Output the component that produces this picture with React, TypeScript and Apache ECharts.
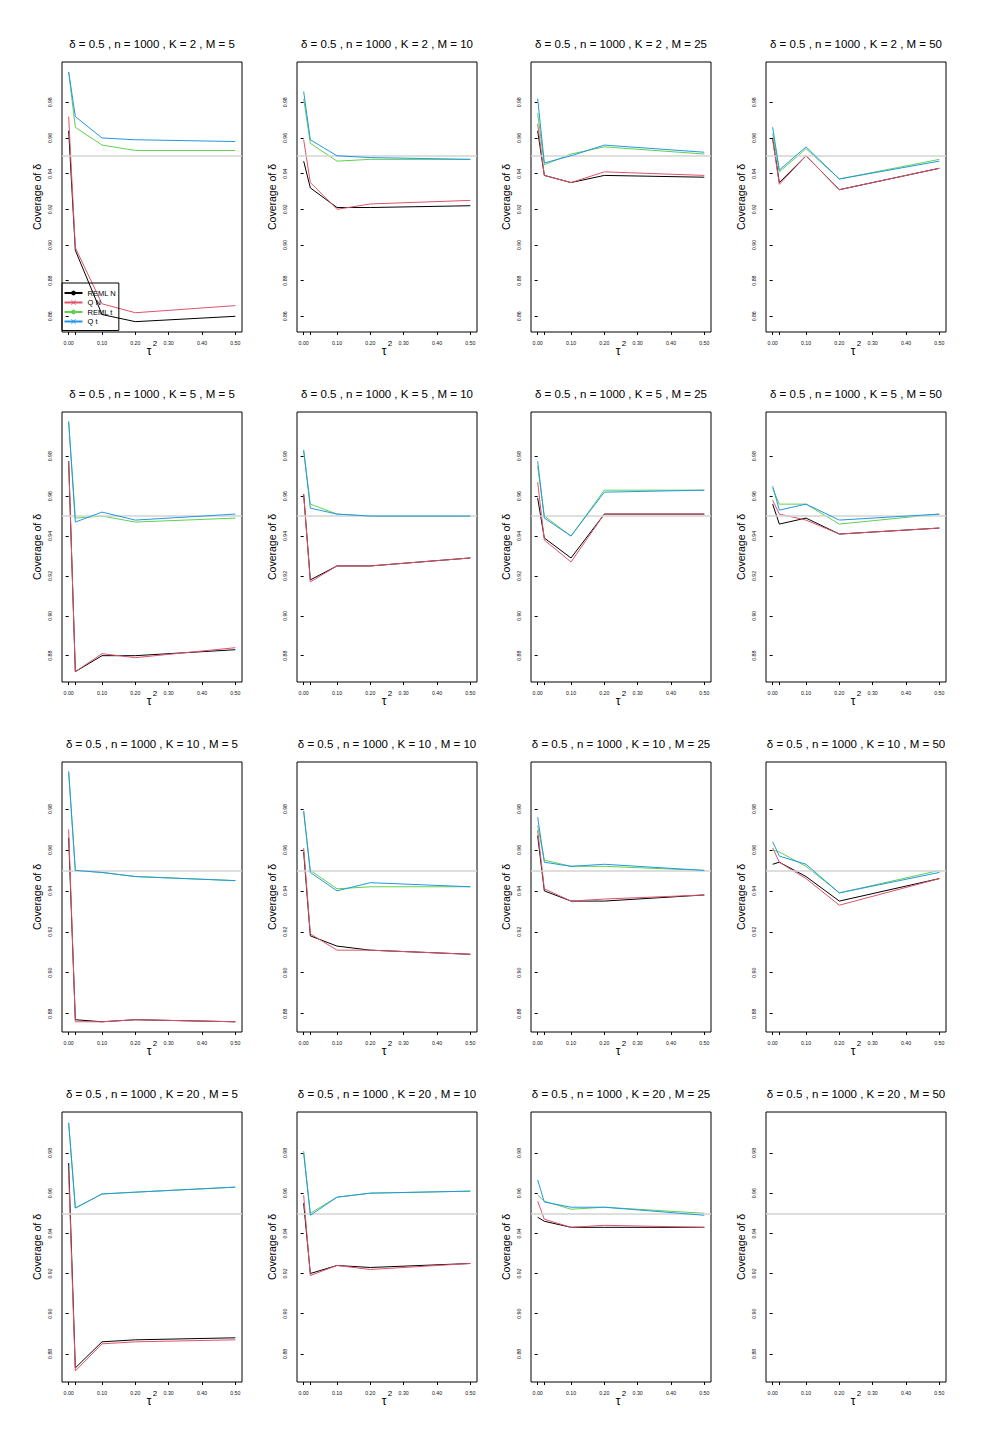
import React, { useEffect, useRef } from "react";
import * as echarts from "echarts";

// ---------- data ----------
const TAU2 = [0, 0.02, 0.1, 0.2, 0.5];
const K_VALUES = [2, 5, 10, 20];
const M_VALUES = [5, 10, 25, 50];
const SERIES_NAMES = ["REML N", "Q N", "REML t", "Q t"];
const SERIES_COLORS = ["#000000", "#DF536B", "#61D04F", "#2297E6"];
const X_LABELS = [0, 0.1, 0.2, 0.3, 0.4, 0.5];
const X_TICKS = [0, 0.02, 0.1, 0.2, 0.3, 0.4, 0.5];
const Y_TICKS_ROW1 = [0.86, 0.88, 0.9, 0.92, 0.94, 0.96, 0.98];
const Y_TICKS_OTHER = [0.88, 0.9, 0.92, 0.94, 0.96, 0.98];
const NOMINAL = 0.95;
const X_RANGE = [-0.02, 0.52];
const ROW_Y_RANGE = [
  [0.8512, 1.0026],
  [0.8668, 1.0022],
  [0.871, 1.003],
  [0.866, 1.0004],
];

// each panel: [REML N, Q N, REML t, Q t]
const K2_M5 = [
  [0.964, 0.897, 0.861, 0.857, 0.86],
  [0.972, 0.8985, 0.867, 0.862, 0.866],
  [0.997, 0.966, 0.956, 0.953, 0.953],
  [0.997, 0.972, 0.96, 0.959, 0.958],
];
const K2_M10 = [
  [0.947, 0.932, 0.921, 0.921, 0.922],
  [0.959, 0.935, 0.92, 0.923, 0.925],
  [0.982, 0.957, 0.947, 0.948, 0.948],
  [0.986, 0.959, 0.95, 0.949, 0.948],
];
const K2_M25 = [
  [0.964, 0.939, 0.935, 0.939, 0.938],
  [0.968, 0.939, 0.935, 0.941, 0.939],
  [0.974, 0.945, 0.951, 0.955, 0.951],
  [0.982, 0.946, 0.95, 0.956, 0.952],
];
const K2_M50 = [
  [0.96, 0.935, 0.95, 0.931, 0.943],
  [0.959, 0.934, 0.95, 0.931, 0.943],
  [0.9625, 0.941, 0.954, 0.937, 0.948],
  [0.966, 0.942, 0.955, 0.937, 0.947],
];
const K5_M5 = [
  [0.9775, 0.872, 0.88, 0.88, 0.883],
  [0.9775, 0.872, 0.881, 0.879, 0.884],
  [0.997, 0.949, 0.95, 0.947, 0.949],
  [0.9976, 0.947, 0.952, 0.948, 0.951],
];
const K5_M10 = [
  [0.961, 0.918, 0.925, 0.925, 0.929],
  [0.961, 0.917, 0.925, 0.925, 0.929],
  [0.983, 0.956, 0.951, 0.95, 0.95],
  [0.983, 0.954, 0.951, 0.95, 0.95],
];
const K5_M25 = [
  [0.959, 0.939, 0.929, 0.951, 0.951],
  [0.967, 0.938, 0.927, 0.951, 0.951],
  [0.975, 0.95, 0.94, 0.963, 0.963],
  [0.9775, 0.949, 0.94, 0.962, 0.963],
];
const K5_M50 = [
  [0.956, 0.946, 0.949, 0.941, 0.944],
  [0.958, 0.951, 0.948, 0.941, 0.944],
  [0.964, 0.956, 0.956, 0.946, 0.951],
  [0.965, 0.953, 0.956, 0.948, 0.951],
];
const K10_M5 = [
  [0.966, 0.877, 0.876, 0.877, 0.876],
  [0.97, 0.876, 0.876, 0.877, 0.876],
  [0.998, 0.95, 0.949, 0.947, 0.945],
  [0.9984, 0.95, 0.949, 0.947, 0.945],
];
const K10_M10 = [
  [0.959, 0.918, 0.913, 0.911, 0.909],
  [0.961, 0.919, 0.911, 0.911, 0.909],
  [0.979, 0.95, 0.941, 0.942, 0.942],
  [0.979, 0.949, 0.94, 0.944, 0.942],
];
const K10_M25 = [
  [0.967, 0.94, 0.935, 0.935, 0.938],
  [0.9696, 0.941, 0.935, 0.936, 0.938],
  [0.972, 0.955, 0.952, 0.952, 0.95],
  [0.976, 0.954, 0.952, 0.953, 0.95],
];
const K10_M50 = [
  [0.953, 0.954, 0.947, 0.935, 0.946],
  [0.961, 0.954, 0.946, 0.933, 0.946],
  [0.96, 0.959, 0.952, 0.939, 0.95],
  [0.964, 0.957, 0.953, 0.939, 0.949],
];
const K20_M5 = [
  [0.975, 0.873, 0.886, 0.887, 0.888],
  [0.97, 0.8715, 0.885, 0.886, 0.887],
  [0.995, 0.9526, 0.9596, 0.9605, 0.963],
  [0.995, 0.9526, 0.9596, 0.9605, 0.963],
];
const K20_M10 = [
  [0.955, 0.92, 0.924, 0.923, 0.925],
  [0.959, 0.919, 0.924, 0.922, 0.925],
  [0.981, 0.95, 0.958, 0.96, 0.961],
  [0.98, 0.949, 0.958, 0.96, 0.961],
];
const K20_M25 = [
  [0.948, 0.946, 0.943, 0.943, 0.943],
  [0.956, 0.947, 0.943, 0.944, 0.943],
  [0.959, 0.956, 0.952, 0.953, 0.95],
  [0.9666, 0.9556, 0.953, 0.953, 0.949],
];
const K20_M50: number[][] = [];

const PANELS = [
  [K2_M5, K2_M10, K2_M25, K2_M50],
  [K5_M5, K5_M10, K5_M25, K5_M50],
  [K10_M5, K10_M10, K10_M25, K10_M50],
  [K20_M5, K20_M10, K20_M25, K20_M50],
];

// ---------- layout ----------
const FONT = "'Liberation Sans', Arial, Helvetica, sans-serif";
const GRID_LEFTS = [62, 297, 531, 766];
const GRID_TOPS = [62, 412, 762, 1112];
const GRID_W = 180;
const GRID_H = 270;
const CROSS =
  "path://M0,1L1,0L5,4L9,0L10,1L6,5L10,9L9,10L5,6L1,10L0,9L4,5Z";

function buildOption() {
  const grids: any[] = [];
  const xAxes: any[] = [];
  const yAxes: any[] = [];
  const series: any[] = [];
  const graphics: any[] = [];

  let idx = 0;
  for (let r = 0; r < 4; r++) {
    for (let c = 0; c < 4; c++) {
      const left = GRID_LEFTS[c];
      const top = GRID_TOPS[r];
      grids.push({
        left,
        top,
        width: GRID_W,
        height: GRID_H,
        show: true,
        borderColor: "#000",
        borderWidth: 1,
        backgroundColor: "transparent",
      });
      xAxes.push({
        type: "value",
        gridIndex: idx,
        min: X_RANGE[0],
        max: X_RANGE[1],
        axisLine: { show: false },
        splitLine: { show: false },
        axisTick: {
          show: true,
          customValues: X_TICKS,
          length: 3,
          lineStyle: { color: "#000", width: 1 },
        },
        axisLabel: {
          customValues: X_LABELS,
          formatter: (v: number) => v.toFixed(2),
          fontSize: 5.2,
          margin: 8,
          color: "#111",
          fontFamily: FONT,
        },
      });
      const yt = r === 0 ? Y_TICKS_ROW1 : Y_TICKS_OTHER;
      yAxes.push({
        type: "value",
        gridIndex: idx,
        min: ROW_Y_RANGE[r][0],
        max: ROW_Y_RANGE[r][1],
        axisLine: { show: false },
        splitLine: { show: false },
        axisTick: {
          show: true,
          customValues: yt,
          length: 3,
          lineStyle: { color: "#000", width: 1 },
        },
        axisLabel: {
          customValues: yt,
          formatter: (v: number) => v.toFixed(2),
          rotate: 90,
          fontSize: 5.2,
          margin: 10,
          color: "#111",
          fontFamily: FONT,
        },
      });

      // nominal reference line
      series.push({
        type: "line",
        xAxisIndex: idx,
        yAxisIndex: idx,
        data: [],
        silent: true,
        z: 1,
        markLine: {
          silent: true,
          symbol: ["none", "none"],
          label: { show: false },
          lineStyle: { color: "#d3d3d3", width: 1.5, type: "solid" },
          data: [{ yAxis: NOMINAL }],
        },
      });

      const panel = PANELS[r][c];
      panel.forEach((vals, s) => {
        series.push({
          type: "line",
          name: SERIES_NAMES[s],
          xAxisIndex: idx,
          yAxisIndex: idx,
          data: TAU2.map((x, j) => [x, vals[j]]),
          symbol: s % 2 === 0 ? "circle" : CROSS,
          showSymbol: false,
          silent: true,
          z: 2 + s,
          lineStyle: { color: SERIES_COLORS[s], width: 1 },
          itemStyle: { color: SERIES_COLORS[s] },
        });
      });

      const cx = left + GRID_W / 2;
      graphics.push({
        type: "text",
        x: cx,
        y: top - 18,
        style: {
          text: `δ = 0.5 , n = 1000 , K = ${K_VALUES[r]} , M = ${M_VALUES[c]}`,
          fontSize: 11.5,
          fontFamily: FONT,
          fill: "#000",
          align: "center",
          verticalAlign: "middle",
        },
      });
      graphics.push({
        type: "text",
        x: left - 25,
        y: top + GRID_H / 2,
        rotation: Math.PI / 2,
        style: {
          text: "Coverage of δ",
          fontSize: 10.5,
          fontFamily: FONT,
          fill: "#000",
          align: "center",
          verticalAlign: "middle",
        },
      });
      graphics.push({
        type: "text",
        x: cx - 3,
        y: top + GRID_H + 19,
        style: {
          text: "τ",
          fontSize: 12,
          fontFamily: FONT,
          fill: "#000",
          align: "center",
          verticalAlign: "middle",
        },
      });
      graphics.push({
        type: "text",
        x: cx + 3,
        y: top + GRID_H + 11,
        style: {
          text: "2",
          fontSize: 8,
          fontFamily: FONT,
          fill: "#000",
          align: "center",
          verticalAlign: "middle",
        },
      });
      idx++;
    }
  }

  return {
    animation: false,
    backgroundColor: "#fff",
    grid: grids,
    xAxis: xAxes,
    yAxis: yAxes,
    series,
    graphic: graphics,
    legend: {
      show: true,
      data: SERIES_NAMES,
      left: 62,
      top: 283,
      orient: "vertical",
      padding: [6, 3, 5, 1.5],
      itemGap: 1.5,
      itemWidth: 18,
      itemHeight: 6,
      borderColor: "#000",
      borderWidth: 1,
      selectedMode: false,
      textStyle: { fontSize: 7.5, fontFamily: FONT, color: "#000", lineHeight: 8 },
    },
  };
}

export default function App() {
  const ref = useRef<HTMLDivElement>(null);
  useEffect(() => {
    if (!ref.current) return;
    const chart = echarts.init(ref.current, undefined, { renderer: "svg" });
    chart.setOption(buildOption() as any);
    return () => chart.dispose();
  }, []);
  return (
    <div
      ref={ref}
      style={{ position: "absolute", left: 0, top: 0, width: 990, height: 1452 }}
    />
  );
}
